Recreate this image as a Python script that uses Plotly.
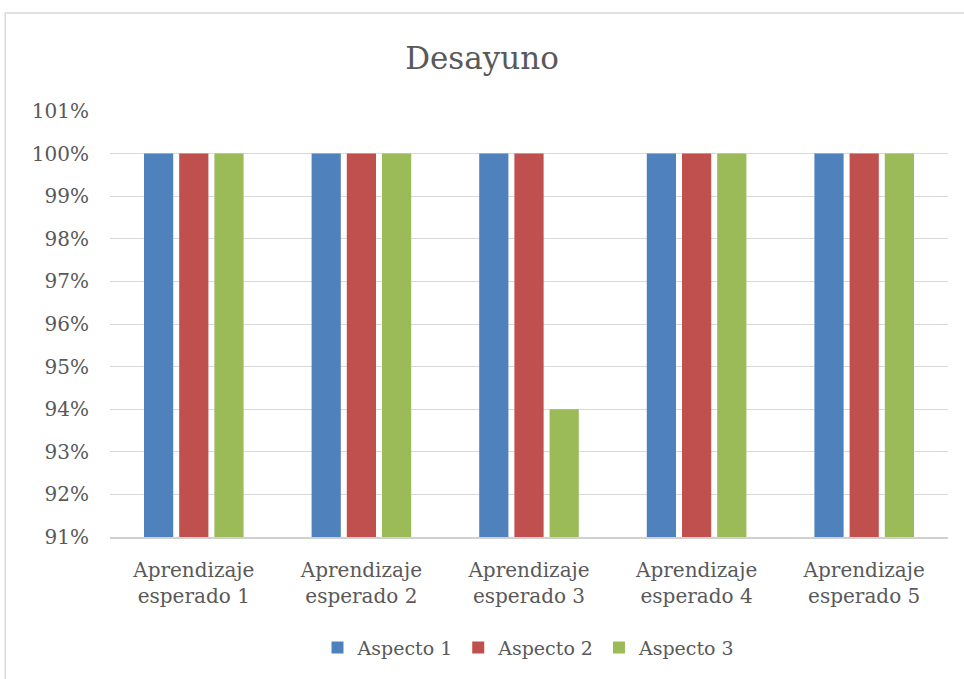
import plotly.graph_objects as go

categories = ["Aprendizaje<br>esperado 1", "Aprendizaje<br>esperado 2", "Aprendizaje<br>esperado 3",
              "Aprendizaje<br>esperado 4", "Aprendizaje<br>esperado 5"]
aspecto1 = [1.00, 1.00, 1.00, 1.00, 1.00]
aspecto2 = [1.00, 1.00, 1.00, 1.00, 1.00]
aspecto3 = [1.00, 1.00, 0.94, 1.00, 1.00]
series_names = ["Aspecto 1", "Aspecto 2", "Aspecto 3"]
colors = ["#4F81BD", "#C0504D", "#9BBB59"]

FONT = "DejaVu Serif"
TXT = "#595959"

fig = go.Figure()
for name, vals, c in zip(series_names, [aspecto1, aspecto2, aspecto3], colors):
    fig.add_trace(go.Bar(x=categories, y=vals, name=name, marker=dict(color=c, line=dict(width=0))))

fig.update_layout(
    width=964, height=679,
    paper_bgcolor="white", plot_bgcolor="white",
    margin=dict(l=110, r=16, t=111, b=142),
    barmode="group", bargap=0.37, bargroupgap=0.17,
    title=dict(text="Desayuno", x=0.5, xanchor="center", y=1 - 58/679, yanchor="middle",
               font=dict(family=FONT, size=31, color=TXT)),
    font=dict(family=FONT, color=TXT, size=20),
    legend=dict(orientation="h", x=0.5, xanchor="center", y=-0.26, yanchor="middle",
                font=dict(family=FONT, size=19, color=TXT), itemwidth=30,
                traceorder="normal"),
    showlegend=True,
)
fig.update_yaxes(range=[0.91, 1.01], dtick=0.01, tickformat=".0%", showgrid=True,
                 gridcolor="#D9D9D9", gridwidth=1, zeroline=False, showline=False,
                 ticks="", ticklabelstandoff=20, tickfont=dict(family=FONT, size=20, color=TXT))
fig.update_xaxes(showline=True, linecolor="#D0D0D0", linewidth=1.5, ticks="",
                 tickfont=dict(family=FONT, size=20, color=TXT), ticklabelstandoff=14)
fig.add_shape(type="rect", xref="paper", yref="paper", x0=-0.125, x1=1.2, y0=-0.6, y1=1.23,
              line=dict(color="#D9D9D9", width=1.5), fillcolor="rgba(0,0,0,0)", layer="below")
fig.write_html("out.html", config={"displayModeBar": False},
               post_script="document.body.style.margin='0';document.body.style.overflow='hidden';")
